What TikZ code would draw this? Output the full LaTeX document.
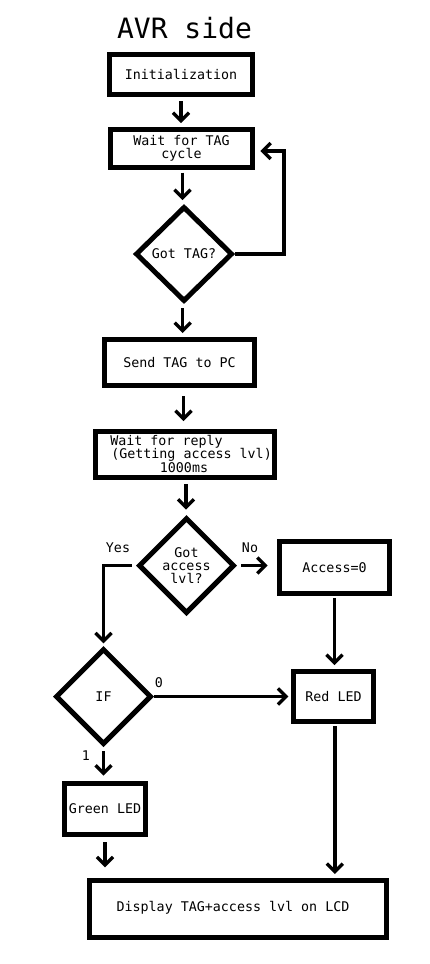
\documentclass[tikz,border=0pt]{standalone}
\usepackage{fontspec}
\setmainfont{DejaVu Sans Mono}
\usetikzlibrary{shapes.geometric,arrows.meta}
\tikzset{
  box/.style={draw, line width=3.75pt, inner sep=0pt, align=center, font=\fontsize{10}{9.6}\selectfont},
  dia/.style={draw, diamond, line width=3.75pt, inner sep=0pt, align=center, minimum width=72pt, minimum height=72pt, font=\fontsize{10}{9.6}\selectfont},
  txt/.style={inner sep=0pt, align=center, font=\fontsize{10}{9.6}\selectfont},
  arr/.style={draw, line width=2.5pt, -{Straight Barb[length=6pt,width=12pt]}},
  ln/.style={draw, line width=2.5pt}
}
\begin{document}
\begin{tikzpicture}[x=0.75pt,y=-0.75pt]
\useasboundingbox (0,0) rectangle (429,964);
\node[inner sep=0pt, font=\fontsize{21}{21}\selectfont] (title) at (184.5,28) {AVR side};
\node[box, minimum width=107.25pt, minimum height=30pt] (init) at (181,74.5) {Initialization};
\node[box, minimum width=106.5pt, minimum height=28.5pt] (wait) at (181.5,148.5) {Wait for TAG\\cycle};
\node[dia, minimum width=72.75pt, minimum height=71.25pt] (gottag) at (184,254) {Got TAG?};
\node[box, minimum width=112.5pt, minimum height=34.5pt] (send) at (179.5,362.5) {Send TAG to PC};
\node[box, minimum width=134.25pt, minimum height=34.5pt] (reply) at (185,454.5) {};
\node[txt, anchor=west] (r1) at (110,442) {Wait for reply};
\node[txt, anchor=west] (r2) at (111,455) {(Getting access lvl)};
\node[txt] (r3) at (184,468) {1000ms};
\node[dia] (gotacc) at (186.5,565.5) {Got\\access\\lvl?};
\node[box, minimum width=82.5pt, minimum height=39pt] (acc0) at (334.5,567.5) {Access=0};
\node[dia] (ifd) at (103.5,696.5) {IF};
\node[box, minimum width=60pt, minimum height=37.5pt] (red) at (333.5,696.5) {Red LED};
\node[box, minimum width=60.75pt, minimum height=38.25pt] (green) at (105,809) {Green LED};
\node[box, minimum width=222.75pt, minimum height=42.75pt] (disp) at (238,909) {};
\node[txt] (disptxt) at (233,908) {Display TAG+access lvl on LCD};
\node[txt] (yes) at (118,548) {Yes};
\node[txt] (no) at (250,548) {No};
\node[txt] (zero) at (159,683) {0};
\node[txt] (one) at (86,756) {1};
\coordinate (fb) at (284,151);
% connectors
\draw[arr, shorten <=3pt, shorten >=3pt] (init.south) -- (init.south |- wait.north);
\draw[arr, shorten <=2pt, shorten >=3pt] ([xshift=0.75pt]wait.south) -- ([xshift=0.75pt]wait.south |- gottag.north);
\draw[arr, shorten <=3pt, shorten >=3pt] ([xshift=-1pt]gottag.south) -- ([xshift=-1pt]gottag.south |- send.north);
\draw[arr, shorten <=6pt, shorten >=6pt] ([xshift=3pt]send.south) -- ([xshift=3pt]send.south |- reply.north);
\draw[arr, shorten <=3pt, shorten >=4pt] ([xshift=0.75pt]reply.south) -- ([xshift=0.75pt]reply.south |- gotacc.north);
\draw[arr, shorten >=4pt] (gottag.east) -- (gottag.east -| fb) -- (fb) -- (fb -| wait.east);
\draw[arr, shorten <=3pt, shorten >=2pt] (gotacc.west) -| (ifd.north);
\draw[arr, shorten <=3pt, shorten >=7pt] (gotacc.east) -- (gotacc.east -| acc0.west);
\draw[arr, shorten <=1.5pt, shorten >=3pt] (acc0.south) -- (acc0.south |- red.north);
\draw[arr, shorten >=2pt] (ifd.east) -- (red.west);
\draw[arr, shorten <=3pt, shorten >=4pt] (ifd.south) -- (ifd.south |- green.north);
\draw[arr, shorten <=4pt, shorten >=8pt] (green.south) -- (green.south |- disp.north);
\draw[arr, shorten <=1.5pt, shorten >=3pt] ([xshift=1pt]red.south) -- ([xshift=1pt]red.south |- disp.north);
\end{tikzpicture}
\end{document}
